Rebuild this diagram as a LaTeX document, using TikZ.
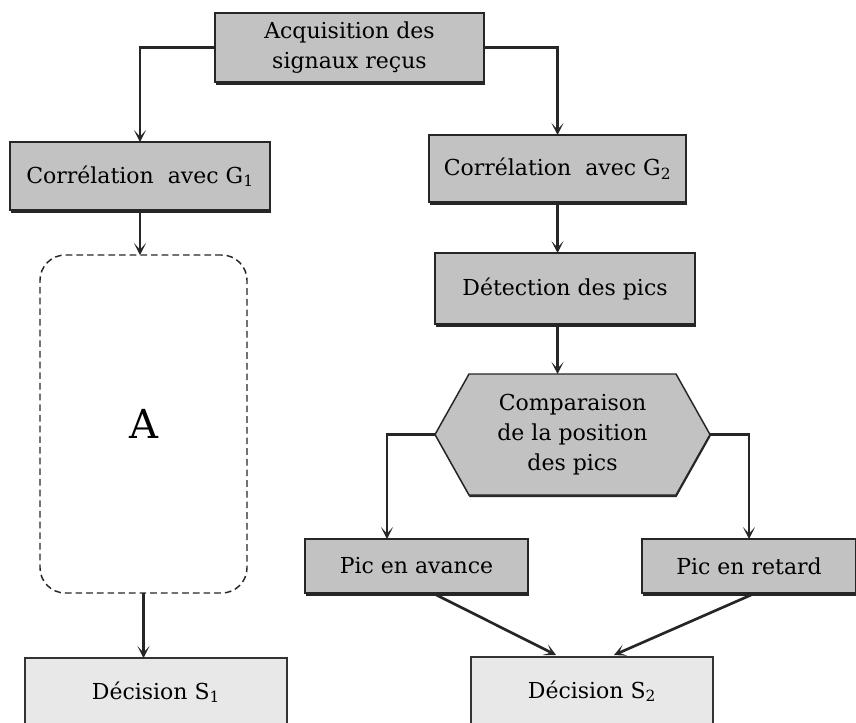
\documentclass[tikz,border=0pt]{standalone}
\usepackage{fontspec}
\setmainfont{DejaVu Serif}
\usetikzlibrary{arrows.meta,positioning,calc,shadows,backgrounds}

\begin{document}
\begin{tikzpicture}[x=0.75pt,y=0.75pt,yscale=-1,xscale=1,
	txt/.style={font=\fontsize{16.5}{22.5}\selectfont, align=center, inner sep=0pt, outer sep=0pt},
	dims/.style 2 args={minimum width=#1*0.75pt, minimum height=#2*0.75pt},
	greybox/.style={txt, draw=black!85, line width=1pt, fill=black!24, drop shadow={shadow xshift=0.6pt, shadow yshift=-2.4pt, fill=black!85, opacity=1}},
	hexa/.style={draw=black!85, line width=1.1pt, fill=black!24, drop shadow={shadow xshift=0.4pt, shadow yshift=-1.5pt, fill=black!85, opacity=1}},
	decbox/.style={txt, draw=black!80, line width=0.9pt, fill=black!9},
	dashbox/.style={draw=black!85, line width=1.1pt, dash pattern=on 5pt off 3pt, rounded corners=19pt, inner sep=0pt, outer sep=0pt, font=\fontsize{30}{36}\selectfont},
	flow/.style={draw=black!85, line width=2pt, -{Stealth[length=9pt,width=9pt,inset=5pt]}}
]
	\useasboundingbox (0,0) rectangle (856,722);

	% Text Node
	\node [greybox, dims={269}{69}] (acq) at (349.5,47.5) {Acquisition des\\signaux reçus};
	% Text Node
	\node [greybox, dims={260}{68}] (gone) at (140,176) {Corrélation~ avec G\textsubscript{1}};
	% Text Node
	\node [greybox, dims={257}{67}] (gtwo) at (557.5,168.5) {Corrélation~ avec G\textsubscript{2}};
	% Text Node
	\node [greybox, dims={260}{71}] (det) at (565,288.5) {Détection des pics};
	%Shape: Rounded Rect
	\node [dashbox, dims={207}{338}] (blockA) at (143.5,424) {A};
	% Text Node
	\node [txt, dims={275}{121}] (cmp) at (572.5,434.5) {Comparaison\\de la position\\des pics};
	% Text Node
	\node [greybox, dims={223}{54}] (pav) at (416.5,566) {Pic en avance};
	% Text Node
	\node [greybox, dims={214}{54}] (pret) at (749,566) {Pic en retard};
	% Text Node
	\node [decbox, dims={262}{68}] (dsone) at (156,692) {Décision S\textsubscript{1}};
	% Text Node
	\node [decbox, dims={242}{68}] (dstwo) at (592,691) {Décision S\textsubscript{2}};

	%Shape: Hexagon
	\begin{scope}[on background layer]
		\filldraw [hexa] ($(cmp.north west)+(34,0)$) -- ($(cmp.north east)+(-34,0)$) -- (cmp.east) -- ($(cmp.south east)+(-34,0)$) -- ($(cmp.south west)+(34,0)$) -- (cmp.west) -- cycle;
	\end{scope}

	%Straight Lines
	\draw [flow] (acq.west) -| (gone.north);
	\draw [flow] (acq.east) -| (gtwo.north);
	\draw [flow] (gone.south) -- (gone.south |- blockA.north);
	\draw [flow] (blockA.south) -- (blockA.south |- dsone.north);
	\draw [flow] (gtwo.south) -- (gtwo.south |- det.north);
	\draw [flow] (gtwo.south |- det.south) -- (gtwo.south |- cmp.north);
	\draw [flow] (cmp.west) -| ($(pav.north west)+(82,0)$);
	\draw [flow] (cmp.east) -| (pret.north);
	\draw [flow] ($(pav.south)+(20,2)$) -- ($(dstwo.north)+(-36,-2)$);
	\draw [flow] ($(pret.south)+(2,2)$) -- ($(dstwo.north)+(22,-2)$);

\end{tikzpicture}
\end{document}
